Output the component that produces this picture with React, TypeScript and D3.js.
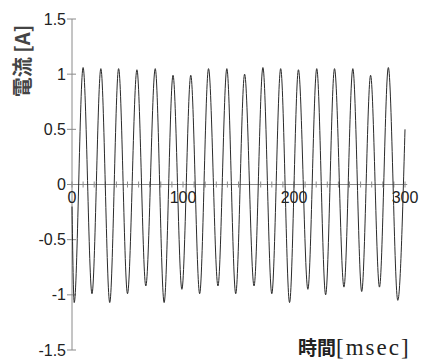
import React from 'react';
import * as d3 from 'd3';

// waveform vertices (alternating troughs / peaks)
const timeMs = [
  0, 2, 10, 18, 26, 34, 42, 50, 58.5, 66.5, 75, 83, 91, 99, 107, 115, 123, 131.5, 139.5, 147.5,
  155.5, 164, 172, 180, 188, 196, 204, 212.5, 220.5, 228.5, 236.5, 245, 253, 261, 269, 277, 285,
  293.5, 300,
];
const currentA = [
  -0.2, -1.07, 1.06, -0.99, 1.05, -1.07, 1.05, -0.99, 1.04, -0.92, 1.05, -1.07, 0.99, -0.95, 0.99,
  -0.99, 1.05, -0.92, 1.05, -0.99, 1.0, -0.92, 1.06, -0.99, 1.05, -1.07, 1.04, -0.95, 1.05, -1.0,
  1.05, -0.93, 1.05, -0.97, 0.99, -0.93, 1.06, -1.05, 0.5,
];

const xTickLabels = [0, 100, 200, 300];
const yTickValues = [-1.5, -1, -0.5, 0, 0.5, 1, 1.5];
const yTickLabels = ['-1.5', '-1', '-0.5', '0', '0.5', '1', '1.5'];

const W = 424;
const H = 360;

export default function App() {
  const x = d3.scaleLinear().domain([0, 300]).range([72, 405]);
  const y = d3.scaleLinear().domain([-1.5, 1.5]).range([350, 19]);

  const line = d3
    .line<number>()
    .x((_, i) => x(timeMs[i]))
    .y((d) => y(d))
    .curve(d3.curveMonotoneX);

  const minorX = d3.range(0, 301, 10);
  const axisColor = '#8a8a8a';
  const labelFont = '"Liberation Sans", Arial, sans-serif';
  const cjkFont = '"Noto Sans CJK JP", "Noto Sans", sans-serif';

  return (
    <svg
      width={W}
      height={H}
      style={{ position: 'absolute', left: 0, top: 0, background: '#fff' }}
    >
      {/* y axis */}
      <line x1={x(0)} x2={x(0)} y1={y(1.5)} y2={y(-1.5)} stroke={axisColor} strokeWidth={1} />
      {yTickValues.map((v, i) => (
        <g key={v}>
          <line x1={x(0) - 5} x2={x(0) + 4} y1={y(v)} y2={y(v)} stroke={axisColor} />
          <text
            x={x(0) - 6}
            y={y(v)}
            dy="0.35em"
            textAnchor="end"
            fontFamily={labelFont}
            fontSize={16}
            fill="#222"
          >
            {yTickLabels[i]}
          </text>
        </g>
      ))}

      {/* x axis through zero */}
      <line x1={x(0)} x2={x(302)} y1={y(0)} y2={y(0)} stroke={axisColor} strokeWidth={1} />
      {minorX.map((t) => (
        <line key={t} x1={x(t)} x2={x(t)} y1={y(0) - 3} y2={y(0) + 3} stroke={axisColor} />
      ))}
      {xTickLabels.map((t) => (
        <text
          key={t}
          x={x(t)}
          y={203}
          textAnchor="middle"
          fontFamily={labelFont}
          fontSize={16}
          fill="#222"
        >
          {t}
        </text>
      ))}

      {/* current waveform */}
      <path d={line(currentA) ?? ''} fill="none" stroke="#2a2a2a" strokeWidth={1} />

      {/* axis titles */}
      <text
        transform={`translate(30, 61) rotate(-90)`}
        textAnchor="middle"
        fontFamily={cjkFont}
        fontSize={20}
        fontWeight={700}
        fill="#444"
      >
        電流 [A]
      </text>
      <text x={298} y={355} fill="#222">
        <tspan fontFamily={cjkFont} fontWeight={700} fontSize={19}>
          時間
        </tspan>
        <tspan fontFamily='"Liberation Serif", serif' fontSize={23} letterSpacing={2}>
          [msec]
        </tspan>
      </text>
    </svg>
  );
}
